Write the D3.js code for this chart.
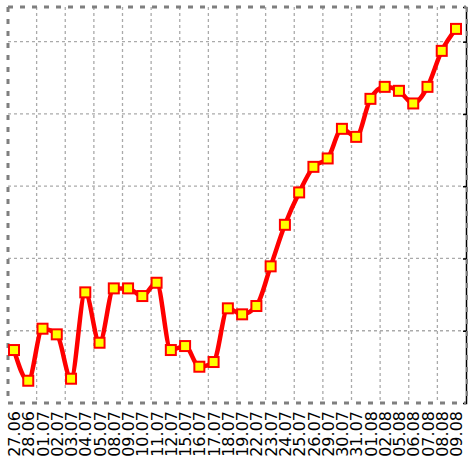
<!DOCTYPE html>
<html>
<head>
<meta charset="utf-8">
<script src="https://cdn.jsdelivr.net/npm/d3@7"></script>
<style>
  html, body { margin: 0; padding: 0; background: #fff; }
  svg { display: block; }
</style>
</head>
<body>
<svg id="chart" width="468" height="459"></svg>
<script>
const dates = ["27.06","28.06","01.07","02.07","03.07","04.07","05.07","08.07","09.07","10.07",
  "11.07","12.07","15.07","16.07","17.07","18.07","19.07","22.07","23.07","24.07","25.07",
  "26.07","29.07","30.07","31.07","01.08","02.08","05.08","06.08","07.08","08.08","09.08"];
const values = [7.33, 3.08, 10.28, 9.50, 3.36, 15.31, 8.34, 15.86, 15.86, 14.80,
  16.64, 7.33, 7.88, 5.02, 5.67, 13.10, 12.27, 13.42, 18.91, 24.66, 29.14,
  32.68, 33.84, 37.94, 36.83, 42.09, 43.75, 43.20, 41.45, 43.75, 48.73, 51.77];
const yTicks = [10, 20, 30, 40, 50];
const xGridDivisions = 16;

const svg = d3.select("#chart");
const L = 8, R = 466, T = 7, B = 403;

const x = d3.scalePoint().domain(dates).range([14, 456]);
const y = d3.scaleLinear().domain([0, 54.8]).range([B, T]);
const gx = d3.scaleLinear().domain([0, xGridDivisions]).range([L, R]);

// grid
const grid = svg.append("g").attr("stroke", "#aaaaaa").attr("stroke-width", 1.3)
  .attr("stroke-dasharray", "3,3").attr("fill", "none");
grid.selectAll("line.v").data(d3.range(1, xGridDivisions)).join("line")
  .attr("x1", d => gx(d)).attr("x2", d => gx(d)).attr("y1", T).attr("y2", B);
grid.selectAll("line.h").data(yTicks).join("line")
  .attr("x1", L).attr("x2", R).attr("y1", d => y(d)).attr("y2", d => y(d));

// right axis (black)
const rAxis = d3.axisRight(y).tickValues(yTicks).tickSize(-3).tickFormat("");
svg.append("g").attr("transform", `translate(${R},0)`).call(rAxis)
  .call(g => g.select(".domain").attr("stroke", "#000").attr("stroke-width", 1.5))
  .call(g => g.selectAll(".tick line").attr("stroke", "#000").attr("stroke-width", 1.5));

// borders (thick dashed gray)
const border = svg.append("g").attr("stroke", "#7f7f7f").attr("stroke-width", 3)
  .attr("stroke-dasharray", "5,7").attr("fill", "none");
border.append("line").attr("x1", L).attr("x2", R).attr("y1", T).attr("y2", T);
border.append("line").attr("x1", L).attr("x2", L).attr("y1", T).attr("y2", B);
border.append("line").attr("x1", L).attr("x2", R).attr("y1", B).attr("y2", B);
border.append("line").attr("x1", R + 1.5).attr("x2", R + 1.5).attr("y1", T).attr("y2", B);

// line
const line = d3.line().x((d, i) => x(dates[i])).y(d => y(d)).curve(d3.curveMonotoneX);
svg.append("path").datum(values).attr("d", line)
  .attr("fill", "none").attr("stroke", "#ff0000").attr("stroke-width", 4.5)
  .attr("stroke-linejoin", "round");

// markers
const s = 10;
svg.selectAll("rect.m").data(values).join("rect")
  .attr("x", (d, i) => x(dates[i]) - s / 2).attr("y", d => y(d) - s / 2)
  .attr("width", s).attr("height", s)
  .attr("fill", "#ffff00").attr("stroke", "#ff0000").attr("stroke-width", 2);

// x labels
const xAxis = d3.axisBottom(x).tickSize(0);
const xg = svg.append("g").attr("transform", `translate(0,${B})`).call(xAxis);
xg.select(".domain").remove();
xg.selectAll(".tick text")
  .attr("font-family", "DejaVu Sans, sans-serif").attr("font-size", 16)
  .attr("fill", "#000")
  .attr("text-anchor", "end")
  .attr("dy", "0.35em")
  .attr("transform", "translate(0,8) rotate(-90)")
  .attr("x", 0).attr("y", 0);
</script>
</body>
</html>
